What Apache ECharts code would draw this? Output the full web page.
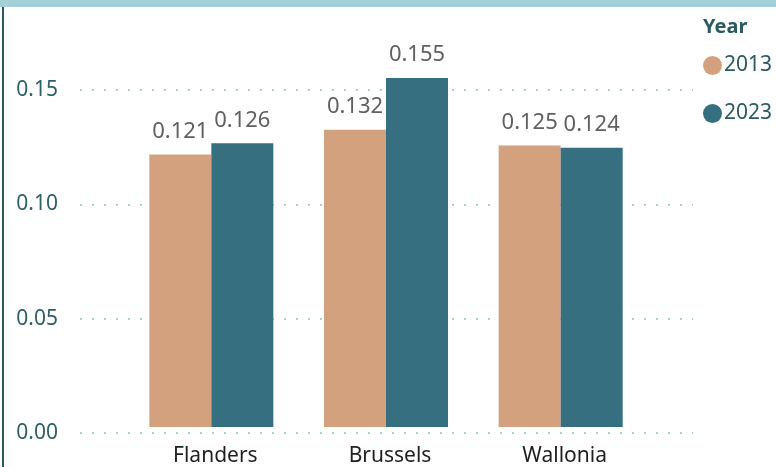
<!DOCTYPE html>
<html>
<head>
<meta charset="utf-8">
<script src="https://cdn.jsdelivr.net/npm/echarts@6/dist/echarts.min.js"></script>
<style>
  html, body { margin: 0; padding: 0; background: #fff; }
  #wrap { position: relative; width: 776px; height: 467px; overflow: hidden; }
  #band { position: absolute; left: 0; top: 0; width: 776px; height: 7px; background: #a4d0d8; }
  #edge { position: absolute; left: 2px; top: 7px; width: 2px; height: 460px; background: #2d585e; }
  #chart { position: absolute; left: 0; top: 0; width: 776px; height: 467px; }
</style>
</head>
<body>
<div id="wrap">
  <div id="chart"></div>
  <div id="band"></div>
  <div id="edge"></div>
</div>
<script>
const categories = ['Flanders', 'Brussels', 'Wallonia'];
const years = ['2013', '2023'];
const values2013 = [0.121, 0.132, 0.125];
const values2023 = [0.126, 0.155, 0.124];
const legendTitle = 'Year';

const FONT = '"Noto Sans", "Open Sans", sans-serif';
const yMin = 0, yMax = 0.175, yStep = 0.05;

const chart = echarts.init(document.getElementById('chart'), null, { renderer: 'canvas' });
const barLabel = {
  show: true, position: 'top', distance: 12,
  fontFamily: FONT, fontSize: 22, color: '#606060',
  formatter: p => p.value.toFixed(3)
};
chart.setOption({
  animation: false,
  backgroundColor: '#ffffff',
  textStyle: { fontFamily: FONT },
  title: {
    text: legendTitle,
    left: 698, top: 12,
    textStyle: { fontFamily: FONT, fontSize: 20, fontWeight: 'bold', color: '#2a5a60' }
  },
  legend: {
    orient: 'vertical',
    left: 698, top: 50,
    icon: 'circle',
    itemWidth: 19, itemHeight: 19,
    itemGap: 27,
    textStyle: { fontFamily: FONT, fontSize: 21, color: '#2a5a60', padding: [0, 0, 0, -3] },
    data: years
  },
  grid: [
    { left: 80, right: 83, top: 33, bottom: 34 },
    { left: 124, width: 524, top: 33, bottom: 34 }
  ],
  xAxis: [
    { type: 'category', gridIndex: 0, data: categories, show: false },
    {
      type: 'category', gridIndex: 1, data: categories,
      axisLine: { show: false }, axisTick: { show: false },
      axisLabel: { margin: 19, fontFamily: FONT, fontSize: 21, color: '#1f1f1f', padding: [0, 0, 0, 8] }
    }
  ],
  yAxis: [
    {
      type: 'value', gridIndex: 0, min: yMin, max: yMax, interval: yStep,
      axisLine: { show: false }, axisTick: { show: false },
      axisLabel: {
        margin: 22, fontFamily: FONT, fontSize: 21, color: '#2d5f66',
        showMaxLabel: false,
        formatter: v => v.toFixed(2)
      },
      splitLine: { show: true, showMaxLine: false, lineStyle: { color: '#a4d0d8', width: 2, type: [2, 10] } }
    },
    {
      type: 'value', gridIndex: 1, min: yMin, max: yMax, interval: yStep,
      show: false, splitLine: { show: false }
    }
  ],
  series: [
    {
      name: years[0], type: 'bar', xAxisIndex: 1, yAxisIndex: 1,
      data: values2013, barGap: '0%', barCategoryGap: '29%',
      itemStyle: { color: '#d4a17e' },
      label: barLabel
    },
    {
      name: years[1], type: 'bar', xAxisIndex: 1, yAxisIndex: 1,
      data: values2023, barGap: '0%', barCategoryGap: '29%',
      itemStyle: { color: '#366f80' },
      label: barLabel
    }
  ]
});
</script>
</body>
</html>
